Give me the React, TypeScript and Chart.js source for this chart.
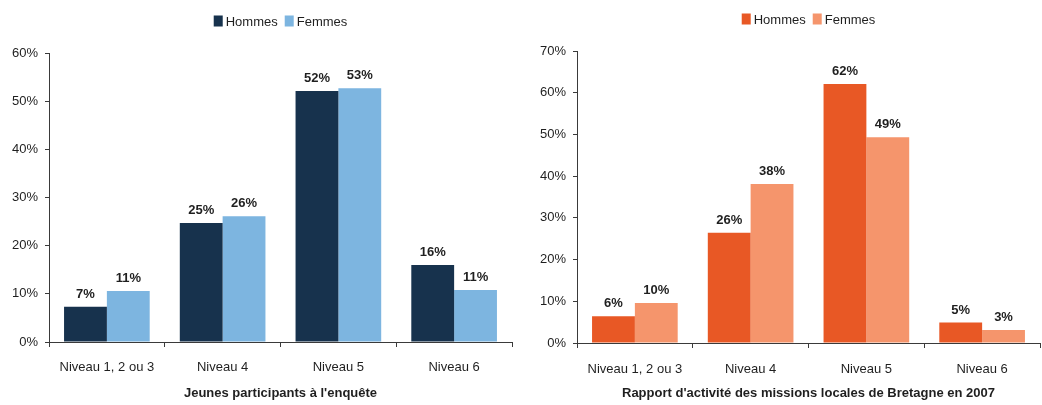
import React, { useEffect, useRef } from 'react';
import { Chart, registerables } from 'chart.js';

Chart.register(...registerables);

const categories = ['Niveau 1, 2 ou 3', 'Niveau 4', 'Niveau 5', 'Niveau 6'];
const seriesNames = ['Hommes', 'Femmes'];

const enqueteHommes = [7.3, 24.7, 52.1, 16.0];
const enqueteFemmes = [10.6, 26.1, 52.7, 10.8];
const enqueteTitle = "Jeunes participants à l'enquête";
const enqueteMax = 60;

const missionsHommes = [6.4, 26.4, 62.1, 4.9];
const missionsFemmes = [9.6, 38.1, 49.3, 3.1];
const missionsTitle = "Rapport d'activité des missions locales de Bretagne en 2007";
const missionsMax = 70;

const FONT = "'Liberation Sans', Arial, sans-serif";
const TEXT = '#1f1f1f';
const AXIS = '#3a3a3a';

const valueLabelPlugin = {
  id: 'valueLabels',
  afterDatasetsDraw(chart: any) {
    const ctx = chart.ctx;
    ctx.save();
    ctx.font = `bold 13px ${FONT}`;
    ctx.fillStyle = TEXT;
    ctx.textAlign = 'center';
    ctx.textBaseline = 'alphabetic';
    chart.data.datasets.forEach((ds: any, di: number) => {
      const meta = chart.getDatasetMeta(di);
      meta.data.forEach((el: any, i: number) => {
        const v = ds.data[i];
        ctx.fillText(Math.round(v) + '%', el.x, el.y - 9);
      });
    });
    ctx.restore();
  },
};

const customLegendPlugin = {
  id: 'customLegend',
  afterDraw(chart: any) {
    const ctx = chart.ctx;
    const area = chart.chartArea;
    ctx.save();
    ctx.font = `13px ${FONT}`;
    const boxW = 9;
    const boxH = 11;
    const gapText = 3;
    const gapItem = 7;
    const items = chart.data.datasets.map((ds: any) => ({
      label: ds.label,
      color: ds.backgroundColor,
      w: ctx.measureText(ds.label).width,
    }));
    let total = 0;
    items.forEach((it: any, i: number) => {
      total += boxW + gapText + it.w + (i < items.length - 1 ? gapItem : 0);
    });
    let x = (area.left + area.right) / 2 - total / 2;
    const cy = chart.options.legendY;
    items.forEach((it: any) => {
      ctx.fillStyle = it.color;
      ctx.fillRect(x, cy - boxH / 2, boxW, boxH);
      x += boxW + gapText;
      ctx.fillStyle = TEXT;
      ctx.textAlign = 'left';
      ctx.textBaseline = 'middle';
      ctx.fillText(it.label, x, cy + 1);
      x += it.w + gapItem;
    });
    ctx.restore();
  },
};

type Props = {
  hommes: number[];
  femmes: number[];
  colors: [string, string];
  title: string;
  max: number;
  yWidth: number;
  xHeight: number;
  padTop: number;
  padRight: number;
  legendY: number;
  xTickPad: number;
};

function BarChart(p: Props) {
  const ref = useRef<HTMLCanvasElement | null>(null);
  useEffect(() => {
    if (!ref.current) return;
    const chart = new Chart(ref.current, {
      type: 'bar',
      data: {
        labels: categories,
        datasets: [
          {
            label: seriesNames[0],
            data: p.hommes,
            backgroundColor: p.colors[0],
            categoryPercentage: 0.74,
            barPercentage: 1,
          },
          {
            label: seriesNames[1],
            data: p.femmes,
            backgroundColor: p.colors[1],
            categoryPercentage: 0.74,
            barPercentage: 1,
          },
        ],
      },
      options: {
        animation: false,
        responsive: true,
        maintainAspectRatio: false,
        legendY: p.legendY,
        layout: { padding: { left: 0, right: p.padRight, top: p.padTop, bottom: 0 } },
        plugins: {
          legend: { display: false },
          tooltip: { enabled: false },
        },
        scales: {
          x: {
            afterFit: (s: any) => {
              s.height = p.xHeight;
            },
            grid: {
              display: true,
              offset: true,
              drawOnChartArea: false,
              drawTicks: true,
              tickLength: 5,
              color: AXIS,
            },
            border: { display: true, color: AXIS, width: 1 },
            ticks: {
              color: TEXT,
              font: { family: FONT, size: 13 },
              padding: p.xTickPad,
              maxRotation: 0,
              autoSkip: false,
            },
            title: {
              display: true,
              text: p.title,
              color: TEXT,
              font: { family: FONT, size: 13, weight: 'bold' },
              padding: { top: 4, bottom: 4 },
            },
          },
          y: {
            min: 0,
            max: p.max,
            afterFit: (s: any) => {
              s.width = p.yWidth;
            },
            grid: {
              display: true,
              drawOnChartArea: false,
              drawTicks: true,
              tickLength: 4,
              color: AXIS,
            },
            border: { display: true, color: AXIS, width: 1 },
            ticks: {
              stepSize: 10,
              color: TEXT,
              font: { family: FONT, size: 13 },
              padding: 7,
              callback: (v: any) => v + '%',
            },
          },
        },
      } as any,
      plugins: [valueLabelPlugin, customLegendPlugin],
    });
    return () => chart.destroy();
  }, []);
  return <canvas ref={ref} />;
}

export default function App() {
  return (
    <div
      style={{
        position: 'absolute',
        left: 0,
        top: 0,
        width: 1042,
        height: 405,
        background: '#ffffff',
      }}
    >
      <div style={{ position: 'absolute', left: 0, top: 0, width: 520, height: 405 }}>
        <BarChart
          hommes={enqueteHommes}
          femmes={enqueteFemmes}
          colors={['#17324d', '#7db5e0']}
          title={enqueteTitle}
          max={enqueteMax}
          yWidth={49}
          xHeight={63}
          padTop={53}
          padRight={8}
          legendY={21}
          xTickPad={13}
        />
      </div>
      <div style={{ position: 'absolute', left: 520, top: 0, width: 522, height: 405 }}>
        <BarChart
          hommes={missionsHommes}
          femmes={missionsFemmes}
          colors={['#e85825', '#f5956c']}
          title={missionsTitle}
          max={missionsMax}
          yWidth={57}
          xHeight={62}
          padTop={51}
          padRight={2}
          legendY={19}
          xTickPad={14}
        />
      </div>
    </div>
  );
}
